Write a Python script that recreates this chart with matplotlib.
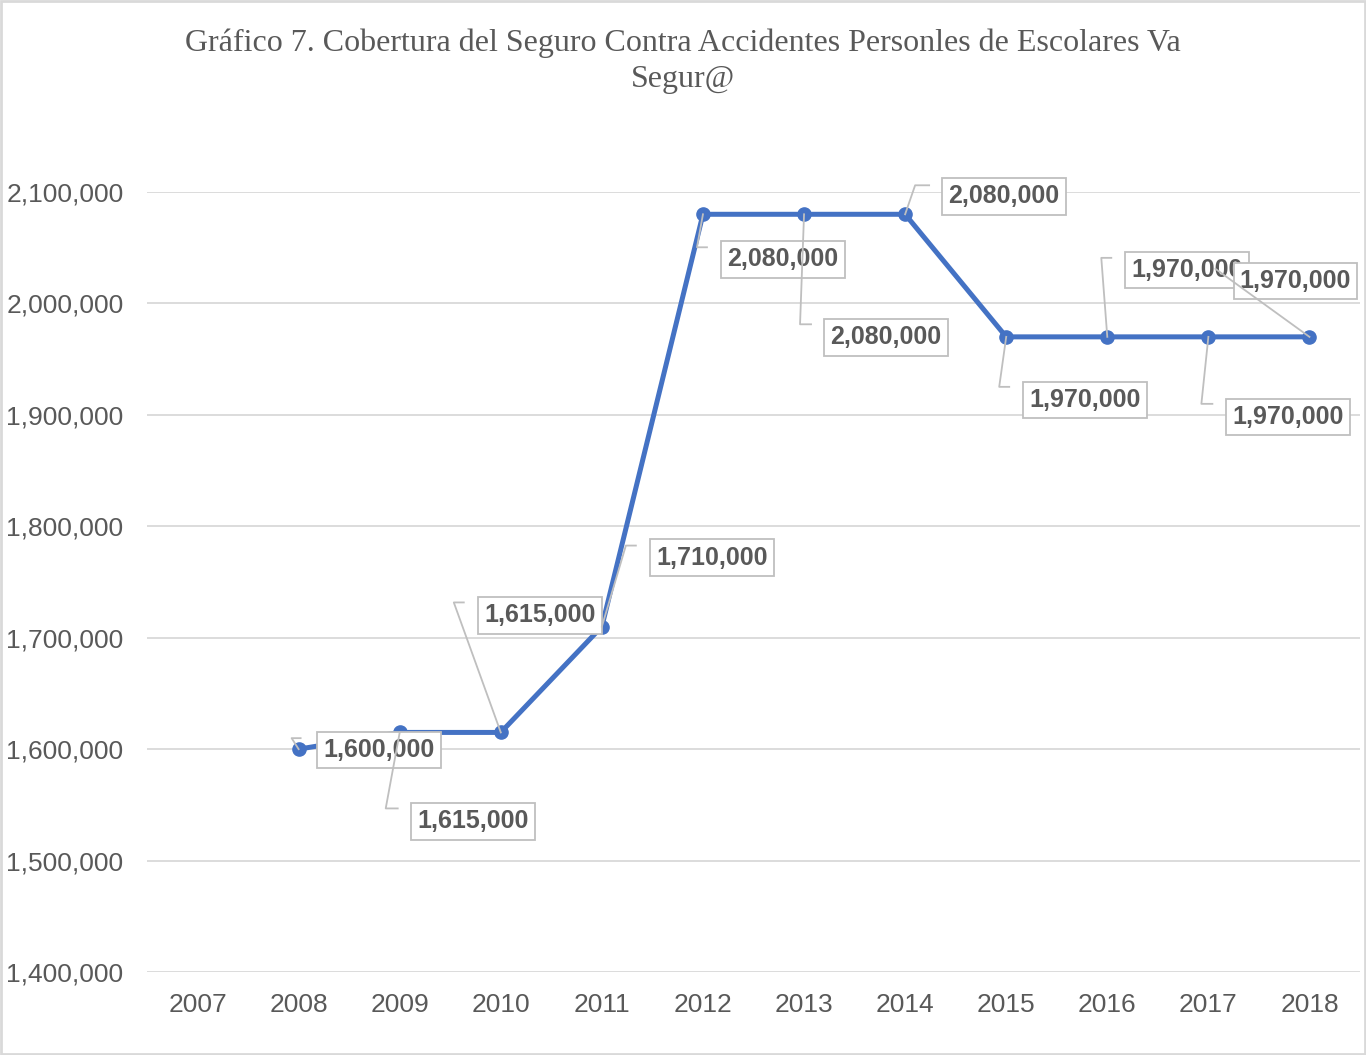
import matplotlib
matplotlib.use('Agg')
import matplotlib.pyplot as plt
from matplotlib.patches import Rectangle
from matplotlib.ticker import FuncFormatter

# Datos del grafico
years = ['2007', '2008', '2009', '2010', '2011', '2012', '2013', '2014', '2015', '2016', '2017', '2018']
data_years = ['2008', '2009', '2010', '2011', '2012', '2013', '2014', '2015', '2016', '2017', '2018']
coverage = [1600000, 1615000, 1615000, 1710000, 2080000, 2080000, 2080000, 1970000, 1970000, 1970000, 1970000]
y_ticks = [1400000, 1500000, 1600000, 1700000, 1800000, 1900000, 2000000, 2100000]
title = 'Gráfico 7. Cobertura del Seguro Contra Accidentes Personles de Escolares Va\nSegur@'

# Posicion de las etiquetas (desplazamiento en pixeles desde el punto, y hacia abajo)
label_offsets = [(80, 1), (73, 89), (39, -117), (110, -69), (80, 45), (82, 123),
                 (99, -18), (79, 63), (80, -67), (80, 80), (-14, -56)]
# codo de la linea guia (dx, dy) y largo del tramo horizontal
leader_elbows = [(-7, -11, 9), (-14, 76, 12), (-47, -130, 10), (24, -81, 10), (-6, 33, 10),
                 (-4, 110, 11), (10, -29, 14), (-7, 50, 10), (-6, -79, 10), (-7, 67, 11),
                 (-94, -68, 0)]

gray_text = '#595959'
blue = '#4472C4'

fig = plt.figure(figsize=(13.66, 10.55), dpi=100)
ax = fig.add_axes([147 / 1366, 1 - 972 / 1055, (1360 - 147) / 1366, (972 - 192) / 1055])

xs = [years.index(y) for y in data_years]
ax.plot(xs, coverage, color=blue, lw=3.6, marker='o', ms=9.5, zorder=3, solid_capstyle='round')

ax.set_xlim(-0.5, len(years) - 0.5)
ax.set_ylim(1400000, 2100000)
ax.set_xticks(range(len(years)))
ax.set_xticklabels(years)
ax.set_yticks(y_ticks)
ax.yaxis.set_major_formatter(FuncFormatter(lambda v, p: f'{int(v):,}'))
ax.grid(axis='y', color='#d9d9d9', lw=1.3, zorder=0)
ax.set_axisbelow(True)
for s in ax.spines.values():
    s.set_visible(False)
ax.tick_params(length=0, labelsize=19, labelcolor=gray_text, pad=15)
ax.tick_params(axis='y', pad=17)
for lab in ax.get_xticklabels() + ax.get_yticklabels():
    lab.set_fontfamily('Liberation Sans')

# pixel -> datos
fig.canvas.draw()
inv = ax.transData.inverted()
def shift(x, y, dx, dy):
    px, py = ax.transData.transform((x, y))
    return inv.transform((px + dx, py - dy))

for x, v, (ox, oy), (ex, ey, hook) in zip(xs, coverage, label_offsets, leader_elbows):
    tx, ty = shift(x, v, ox, oy)
    ax.text(tx, ty, f'{v:,}', ha='center', va='center', fontsize=18, fontweight='bold',
            family='Liberation Sans', color=gray_text, zorder=4,
            bbox=dict(boxstyle='square,pad=0.25', fc='white', ec='#bfbfbf', lw=1.3))
for x, v, (ex, ey, hook) in zip(xs, coverage, leader_elbows):
    p1 = shift(x, v, ex, ey)
    p2 = shift(x, v, ex + hook, ey)
    ax.plot([x, p1[0], p2[0]], [v, p1[1], p2[1]], color='#bfbfbf', lw=1.3, zorder=5,
            clip_on=False)

fig.text(0.5, 1 - 61 / 1055, title, ha='center', va='center', fontsize=23,
         family='Liberation Serif', color=gray_text, linespacing=1.3)

fig.patches.append(Rectangle((0.001, 0.001), 0.998, 0.998, transform=fig.transFigure,
                             fill=False, ec='#d9d9d9', lw=2))

fig.savefig('out.png', dpi=100)
